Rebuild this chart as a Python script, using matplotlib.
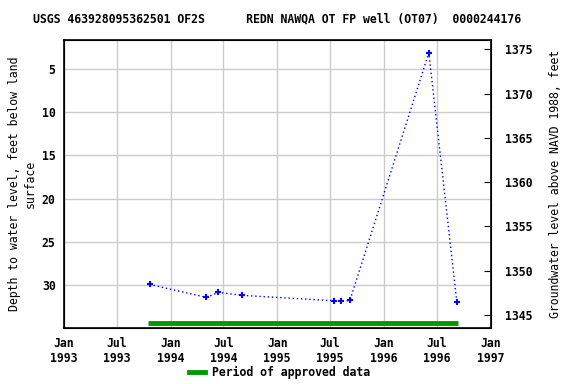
import matplotlib
matplotlib.use("Agg")
import matplotlib.pyplot as plt
import matplotlib.dates as mdates
import numpy as np
from datetime import datetime

plt.rcParams['font.family'] = 'DejaVu Sans Mono'
plt.rcParams['font.weight'] = 'bold'
plt.rcParams['font.size'] = 8.3

# measurements
dates = ['1993-10-21', '1994-05-03', '1994-06-14', '1994-09-03', '1995-07-13',
         '1995-08-06', '1995-09-07', '1996-06-03', '1996-09-07']
depth = [29.92, 31.42, 30.84, 31.19, 31.81, 31.88, 31.77, 3.12, 32.0]
approved = ['1993-10-15', '1996-09-10']
tick_dates = ['1993-01-01', '1993-07-01', '1994-01-01', '1994-07-01', '1995-01-01',
              '1995-07-01', '1996-01-01', '1996-07-01', '1997-01-01']
tick_labels = ['Jan\n1993', 'Jul\n1993', 'Jan\n1994', 'Jul\n1994', 'Jan\n1995',
               'Jul\n1995', 'Jan\n1996', 'Jul\n1996', 'Jan\n1997']
left_ticks = [5, 10, 15, 20, 25, 30]
right_ticks = [1345, 1350, 1355, 1360, 1365, 1370, 1375]

d = [datetime.strptime(s, '%Y-%m-%d') for s in dates]
ap = [datetime.strptime(s, '%Y-%m-%d') for s in approved]
td = [datetime.strptime(s, '%Y-%m-%d') for s in tick_dates]

fig = plt.figure(figsize=(5.76, 3.84), dpi=100)
ax = fig.add_axes([0.111, 0.145, 0.741, 0.752])

ax.plot(d, depth, color='blue', ls=(0, (1, 2)), lw=1, marker='+', ms=5, mew=1.5)
ax.plot(ap, [34.4, 34.4], color='#009900', lw=3.5, solid_capstyle='butt')

ax.set_xlim(td[0], td[-1])
ax.set_ylim(35.0, 1.6)
ax.set_xticks(td)
ax.set_xticklabels(tick_labels)
ax.set_yticks(left_ticks)
ax.grid(True, color='#cccccc', lw=1)
ax.tick_params(length=0, pad=6)
ax.set_ylabel('Depth to water level, feet below land\nsurface', labelpad=4)
for s in ax.spines.values():
    s.set_linewidth(1.2)

ax2 = ax.twinx()
ax2.set_ylim(1343.5, 1376.1)
ax2.set_yticks(right_ticks)
ax2.tick_params(direction='in', length=5, pad=10)
ax2.set_ylabel('Groundwater level above NAVD 1988, feet', labelpad=12)

ax.set_title('USGS 463928095362501 OF2S      REDN NAWQA OT FP well (OT07)  0000244176',
             fontsize=8.3, fontweight='bold', pad=12)

leg = fig.legend(handles=[plt.Line2D([], [], color='#009900', lw=3.5)],
                 labels=['Period of approved data'], loc='center',
                 bbox_to_anchor=(0.485, 0.03), frameon=False, handlelength=1.4,
                 handletextpad=0.6)

fig.savefig('out.png', dpi=100)
